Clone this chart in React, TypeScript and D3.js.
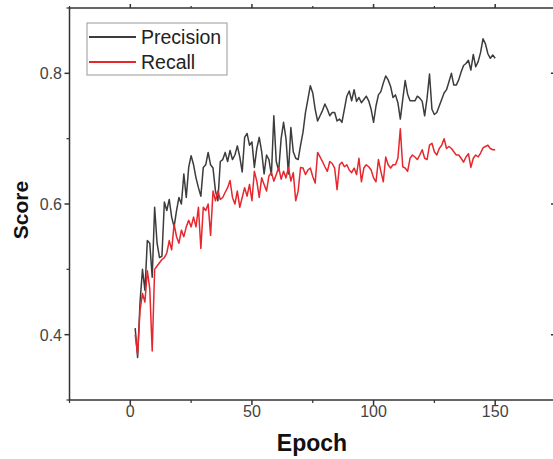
import * as d3 from "d3";

// epochs 2..150
const epochs: number[] = d3.range(2, 151);

const precision: number[] = [
  0.41, 0.365, 0.45, 0.5, 0.468, 0.544, 0.54, 0.488, 0.595, 0.54,
  0.518, 0.52, 0.603, 0.59, 0.607, 0.58, 0.565, 0.59, 0.61, 0.6,
  0.646, 0.61, 0.656, 0.674, 0.66, 0.64, 0.625, 0.612, 0.656, 0.66,
  0.679, 0.66, 0.655, 0.62, 0.605, 0.665, 0.668, 0.679, 0.665, 0.682,
  0.668, 0.675, 0.689, 0.672, 0.649, 0.702, 0.708, 0.69, 0.695, 0.656,
  0.685, 0.702, 0.68, 0.646, 0.675, 0.668, 0.644, 0.735, 0.665, 0.651,
  0.7, 0.725, 0.7, 0.646, 0.717, 0.68, 0.67, 0.668, 0.69, 0.71,
  0.74, 0.76, 0.781, 0.77, 0.745, 0.727, 0.735, 0.743, 0.753, 0.745,
  0.735, 0.74, 0.74, 0.727, 0.73, 0.725, 0.745, 0.765, 0.773, 0.758,
  0.775, 0.757, 0.763, 0.755, 0.76, 0.765, 0.758, 0.745, 0.725, 0.75,
  0.767, 0.772, 0.785, 0.796, 0.79, 0.78, 0.763, 0.767, 0.755, 0.73,
  0.76, 0.789, 0.768, 0.758, 0.758, 0.758, 0.765, 0.762, 0.757, 0.735,
  0.762, 0.799, 0.745, 0.737, 0.74, 0.75, 0.76, 0.77, 0.775, 0.787,
  0.8, 0.782, 0.782, 0.79, 0.802, 0.812, 0.815, 0.82, 0.805, 0.829,
  0.81, 0.818, 0.832, 0.853, 0.845, 0.83, 0.823, 0.828, 0.823,
];

const recall: number[] = [
  0.4, 0.37, 0.437, 0.463, 0.45, 0.498, 0.47, 0.375, 0.5, 0.505,
  0.51, 0.515, 0.518, 0.525, 0.544, 0.53, 0.569, 0.55, 0.54, 0.56,
  0.55, 0.565, 0.575, 0.565, 0.58, 0.565, 0.595, 0.532, 0.595, 0.59,
  0.6, 0.552, 0.62, 0.605, 0.62, 0.607, 0.61, 0.618, 0.625, 0.636,
  0.61, 0.6, 0.62, 0.595, 0.61, 0.625, 0.612, 0.63, 0.605, 0.65,
  0.635, 0.61, 0.64, 0.63, 0.62, 0.643, 0.648, 0.635, 0.645, 0.656,
  0.638, 0.65, 0.64, 0.656, 0.635, 0.648, 0.605, 0.62, 0.656, 0.655,
  0.645, 0.652, 0.655, 0.642, 0.632, 0.679, 0.672, 0.665, 0.657, 0.65,
  0.665, 0.662, 0.655, 0.622, 0.66, 0.664, 0.657, 0.66, 0.652, 0.648,
  0.655, 0.645, 0.67, 0.634, 0.655, 0.66, 0.657, 0.652, 0.64, 0.634,
  0.668, 0.65, 0.634, 0.672, 0.66, 0.655, 0.66, 0.66, 0.67, 0.715,
  0.657, 0.655, 0.65, 0.67, 0.675, 0.672, 0.668, 0.675, 0.683, 0.67,
  0.668, 0.69, 0.693, 0.68, 0.675, 0.685, 0.69, 0.7, 0.685, 0.688,
  0.685, 0.68, 0.675, 0.675, 0.67, 0.664, 0.672, 0.677, 0.656, 0.67,
  0.675, 0.672, 0.678, 0.686, 0.688, 0.69, 0.685, 0.683, 0.683,
];

const xTicks = [0, 50, 100, 150];
const xMinor = [-25, 25, 75, 125, 175];
const yTicks = [0.4, 0.6, 0.8];
const yMinor = [0.3, 0.5, 0.7, 0.9];

const seriesNames = ["Precision", "Recall"];
const seriesColors = ["#3c3c3c", "#e8262e"];

const W = 553;
const H = 459;
const left = 69.5;
const right = 556;
const top = 8;
const bottom = 400;

export default function App() {
  const x = d3.scaleLinear().domain([-25, 175]).range([left, right]);
  const y = d3.scaleLinear().domain([0.3, 0.9]).range([bottom, top]);
  const line = d3
    .line<number>()
    .x((_, i) => x(epochs[i]))
    .y((d) => y(d));

  const axisColor = "#333";
  const font = "Liberation Sans, Arial, sans-serif";
  const series = [precision, recall];

  return (
    <svg
      width={W}
      height={H}
      style={{ position: "fixed", left: 0, top: 0, background: "#fff" }}
      fontFamily={font}
    >
      <rect x={0} y={0} width={W} height={H} fill="#fff" />
      {series.map((s, k) => (
        <path
          key={k}
          d={line(s) || ""}
          fill="none"
          stroke={seriesColors[k]}
          strokeWidth={1.5}
          strokeLinejoin="round"
        />
      ))}

      {/* frame */}
      <rect
        x={left}
        y={top}
        width={right - left}
        height={bottom - top}
        fill="none"
        stroke={axisColor}
        strokeWidth={1.5}
      />

      {/* bottom / top ticks */}
      {xTicks.map((t) => (
        <g key={"x" + t}>
          <line x1={x(t)} x2={x(t)} y1={bottom} y2={bottom + 5} stroke={axisColor} strokeWidth={1.5} />
          <line x1={x(t)} x2={x(t)} y1={top} y2={top - 4} stroke={axisColor} strokeWidth={1.5} />
          <text x={x(t)} y={417} textAnchor="middle" fontSize={16} fill="#444">
            {t}
          </text>
        </g>
      ))}
      {xMinor.map((t) => (
        <g key={"xm" + t}>
          <line x1={x(t)} x2={x(t)} y1={bottom} y2={bottom + 3} stroke={axisColor} strokeWidth={1.2} />
          <line x1={x(t)} x2={x(t)} y1={top} y2={top - 2} stroke={axisColor} strokeWidth={1.2} />
        </g>
      ))}

      {/* left / right ticks */}
      {yTicks.map((t) => (
        <g key={"y" + t}>
          <line x1={left} x2={left - 5} y1={y(t)} y2={y(t)} stroke={axisColor} strokeWidth={1.5} />
          <line x1={right} x2={right - 5} y1={y(t)} y2={y(t)} stroke={axisColor} strokeWidth={1.5} />
          <text x={62} y={y(t) + 6} textAnchor="end" fontSize={16} fill="#444">
            {t.toFixed(1)}
          </text>
        </g>
      ))}
      {yMinor.map((t) => (
        <g key={"ym" + t}>
          <line x1={left} x2={left - 3} y1={y(t)} y2={y(t)} stroke={axisColor} strokeWidth={1.2} />
          <line x1={right} x2={right - 3} y1={y(t)} y2={y(t)} stroke={axisColor} strokeWidth={1.2} />
        </g>
      ))}

      {/* axis titles */}
      <text x={312} y={451} textAnchor="middle" fontSize={23} fontWeight="bold" fill="#111">
        Epoch
      </text>
      <text
        transform={`translate(28, ${y(0.6) + 6}) rotate(-90)`}
        textAnchor="middle"
        fontSize={21}
        fontWeight="bold"
        fill="#111"
      >
        Score
      </text>

      {/* legend */}
      <rect x={87} y={23} width={140} height={52} fill="#fff" stroke="#999" strokeWidth={1} />
      {seriesNames.map((name, k) => (
        <g key={name} transform={`translate(0, ${37 + k * 25})`}>
          <line x1={89} x2={136} y1={0} y2={0} stroke={seriesColors[k]} strokeWidth={2} />
          <text x={141} y={7} fontSize={19.5} fill="#222">
            {name}
          </text>
        </g>
      ))}
    </svg>
  );
}
